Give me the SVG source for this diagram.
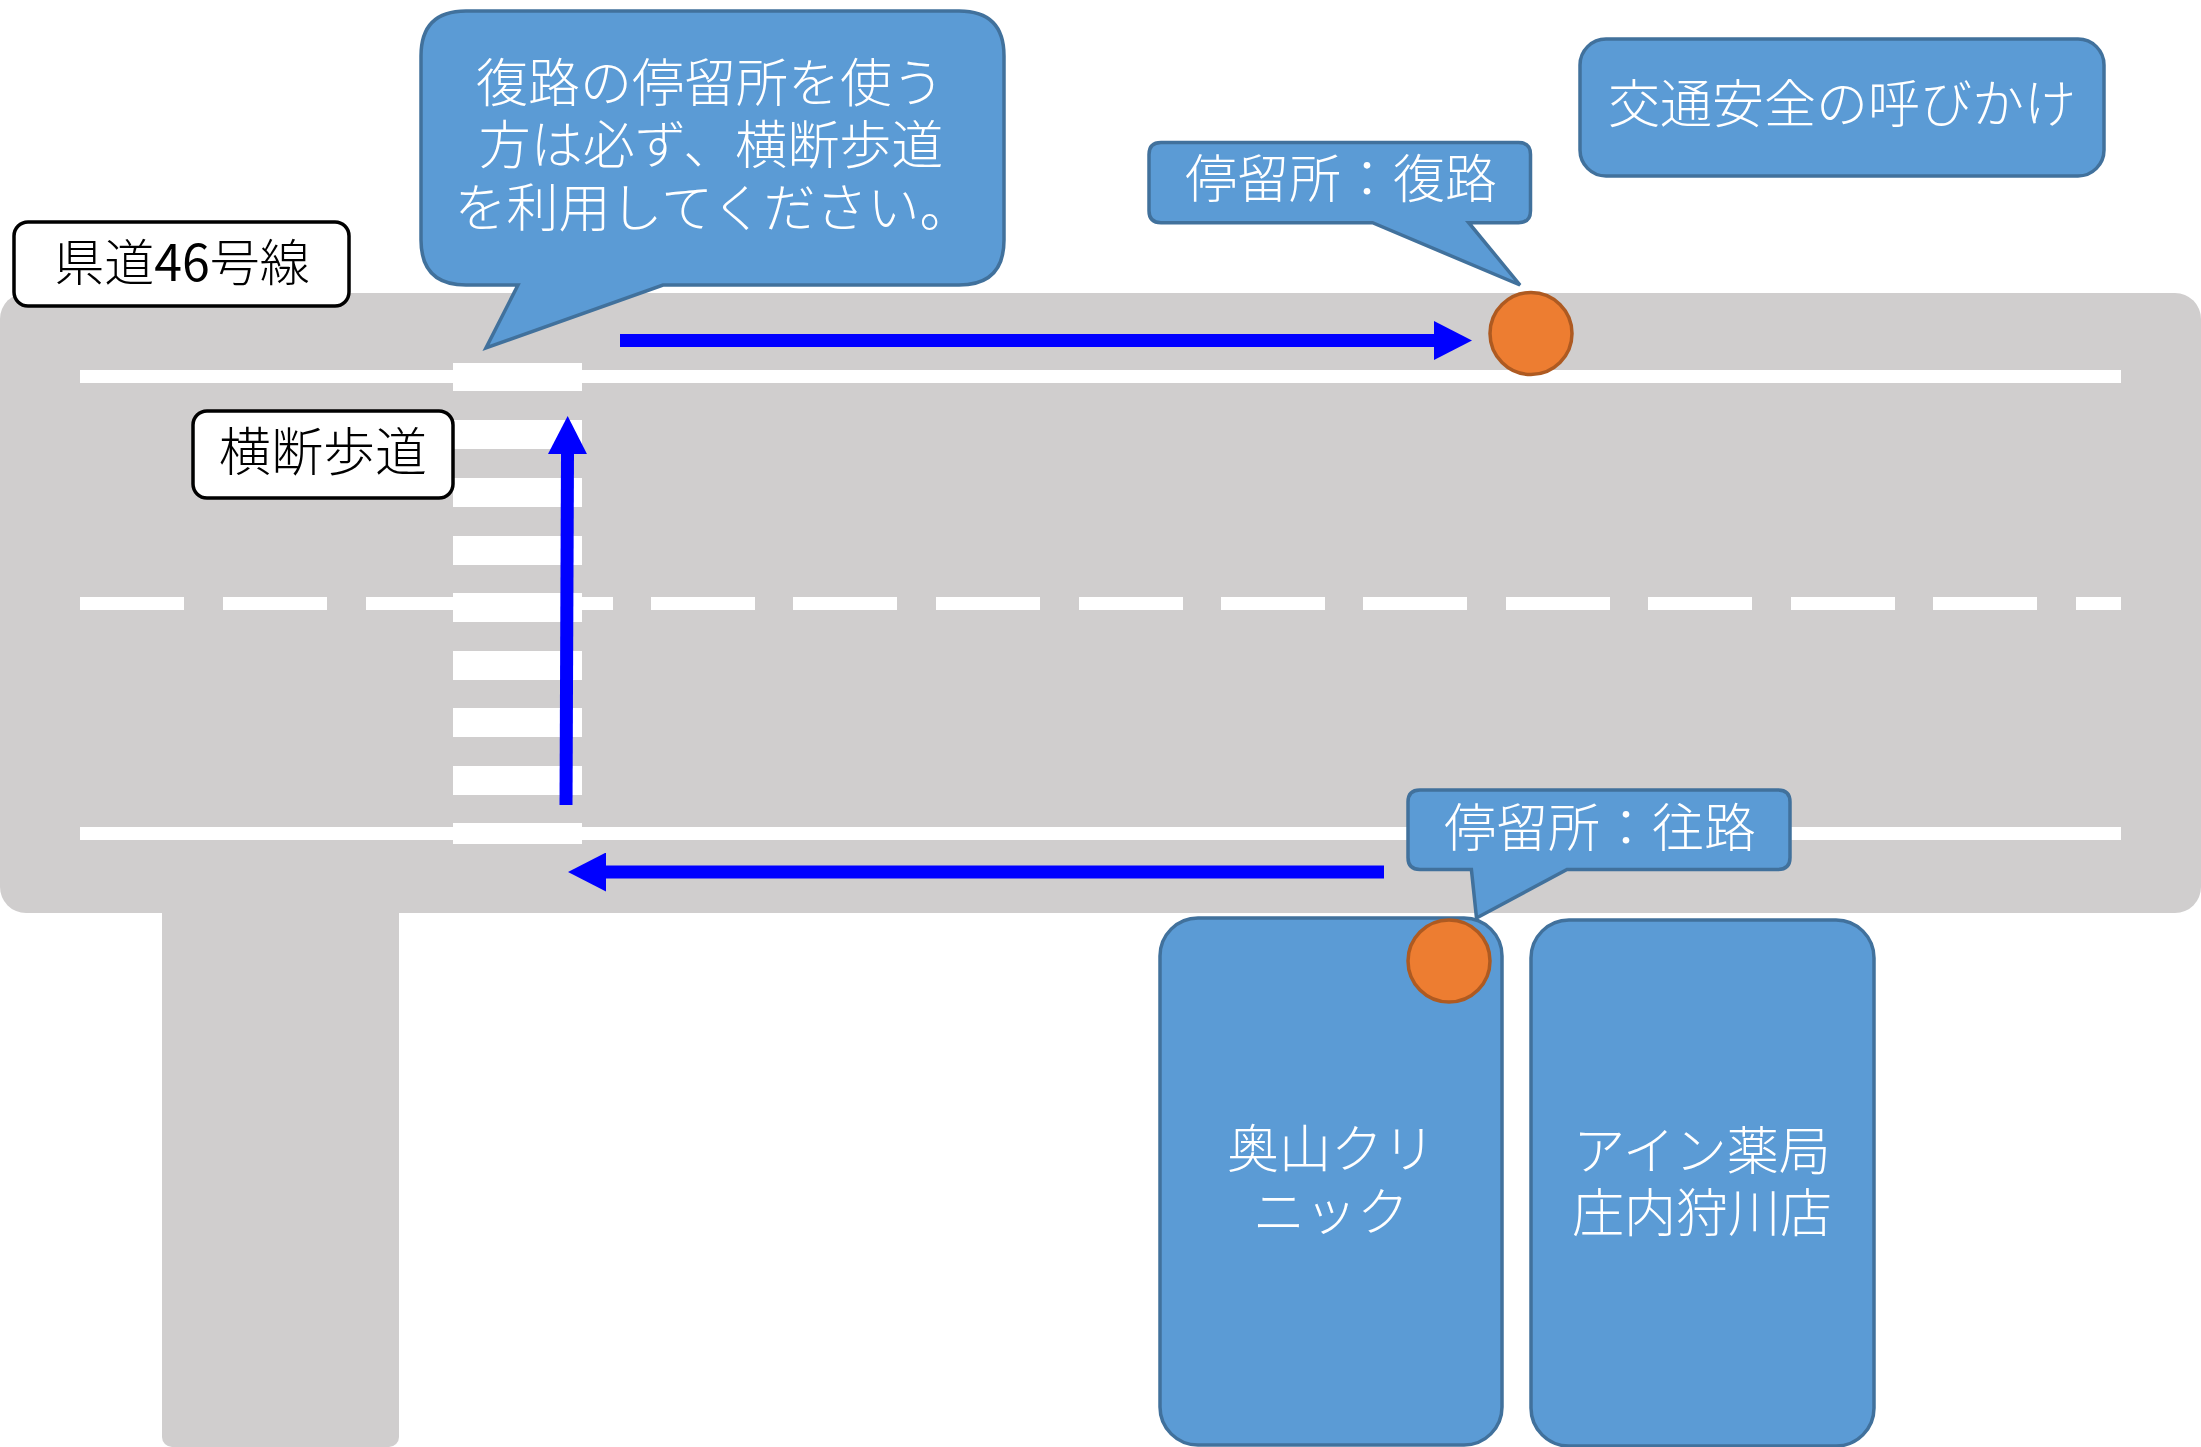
<svg xmlns="http://www.w3.org/2000/svg" width="2201" height="1447" viewBox="0 0 2201 1447">
<style>
text{font-family:"Noto Sans CJK JP","Noto Sans CJK SC",sans-serif;font-size:52px;font-weight:300;text-anchor:middle}
.b{fill:#5B9BD5;stroke:#41719C;stroke-width:3.5}
.o{fill:#ED7D31;stroke:#AE5A21;stroke-width:3.5}
.l{fill:#fff;stroke:#000;stroke-width:3.5}
.w{fill:#fff}
.r{fill:#D0CECE}
.tw{fill:#fff}
.tk{fill:#000}
.a{stroke:#00f;stroke-width:13;fill:none;marker-end:url(#h)}
</style>
<defs><marker id="h" markerUnits="userSpaceOnUse" markerWidth="38" markerHeight="39" viewBox="0 0 38 39" refX="0" refY="19.5" orient="auto"><path d="M0 0L38 19.5L0 39z" fill="#00f"/></marker></defs>
<g id="road">
<rect class="r" x="162" y="880" width="237" height="567" rx="10"/>
<rect class="r" x="0" y="293" width="2201" height="620" rx="26"/>
<rect class="w" x="80" y="370" width="2041" height="13"/>
<rect class="w" x="80" y="827" width="2041" height="13"/>
<g id="centre-line" class="w">
<rect x="80" y="597" width="104" height="13"/><rect x="223" y="597" width="104" height="13"/><rect x="366" y="597" width="104" height="13"/><rect x="509" y="597" width="104" height="13"/><rect x="651" y="597" width="104" height="13"/><rect x="793" y="597" width="104" height="13"/><rect x="936" y="597" width="104" height="13"/><rect x="1079" y="597" width="104" height="13"/><rect x="1221" y="597" width="104" height="13"/><rect x="1363" y="597" width="104" height="13"/><rect x="1506" y="597" width="104" height="13"/><rect x="1648" y="597" width="104" height="13"/><rect x="1791" y="597" width="104" height="13"/><rect x="1933" y="597" width="104" height="13"/><rect x="2076" y="597" width="45" height="13"/>
</g>
<g id="crossing" class="w">
<rect x="453" y="363" width="129" height="28"/><rect x="453" y="420" width="129" height="29"/><rect x="453" y="478" width="129" height="29"/><rect x="453" y="536" width="129" height="29"/><rect x="453" y="593" width="129" height="29"/><rect x="453" y="651" width="129" height="29"/><rect x="453" y="708" width="129" height="29"/><rect x="453" y="766" width="129" height="29"/><rect x="453" y="823" width="129" height="21"/>
</g>
</g>
<g id="connectors">
<line class="a" x1="620" y1="340.5" x2="1434" y2="340.5"/>
<line class="a" x1="566" y1="805" x2="567.5" y2="454"/>
<line class="a" x1="1384" y1="872" x2="606" y2="872"/>
</g>
<g id="label-route46"><rect class="l" x="14" y="222" width="335" height="84" rx="14"/><text class="tk" x="182" y="281" style="font-size:50px">県道<tspan font-weight="400">46</tspan>号線</text></g>
<g id="label-crossing"><rect class="l" x="193" y="411" width="260" height="87" rx="14"/><text class="tk" x="323" y="471">横断歩道</text></g>
<g id="callout-notice"><path class="b" d="M466 11H959Q1004 11 1004 56V240Q1004 285 959 285H663L486 348L518 285H466Q421 285 421 240V56Q421 11 466 11Z"/>
<text class="tw" x="710" y="102">復路の停留所を使う</text><text class="tw" x="711" y="164">方は必ず、横断歩道</text><text class="tw" x="713" y="227">を利用してください。</text></g>
<g id="callout-return"><path class="b" d="M1161 142.500H1518.500Q1530.500 142.500 1530.500 154.500V210.700Q1530.500 222.700 1518.500 222.700H1468.700L1520 285L1372.500 222.700H1161Q1149 222.700 1149 210.700V154.500Q1149 142.500 1161 142.500Z"/><text class="tw" x="1341" y="198">停留所：復路</text></g>
<g id="notice"><rect class="b" x="1580" y="39" width="524" height="137" rx="26"/><text class="tw" x="1842" y="123">交通安全の呼びかけ</text></g>
<g id="stop-return"><circle class="o" cx="1531" cy="333.500" r="41"/></g>
<g id="clinic"><rect class="b" x="1160" y="918" width="342" height="527" rx="38"/><text class="tw" x="1331" y="1168">奥山クリ</text><text class="tw" x="1331" y="1231">ニック</text></g>
<g id="pharmacy"><rect class="b" x="1531" y="920" width="343" height="526" rx="38"/><text class="tw" x="1702" y="1170">アイン薬局</text><text class="tw" x="1702" y="1232">庄内狩川店</text></g>
<g id="callout-out"><path class="b" d="M1420 790H1778Q1790 790 1790 802V857.500Q1790 869.500 1778 869.500H1567L1476.500 918L1471.400 869.500H1420Q1408 869.500 1408 857.500V802Q1408 790 1420 790Z"/><text class="tw" x="1600" y="847">停留所：往路</text></g>
<g id="stop-out"><circle class="o" cx="1449" cy="961" r="41"/></g>
</svg>
